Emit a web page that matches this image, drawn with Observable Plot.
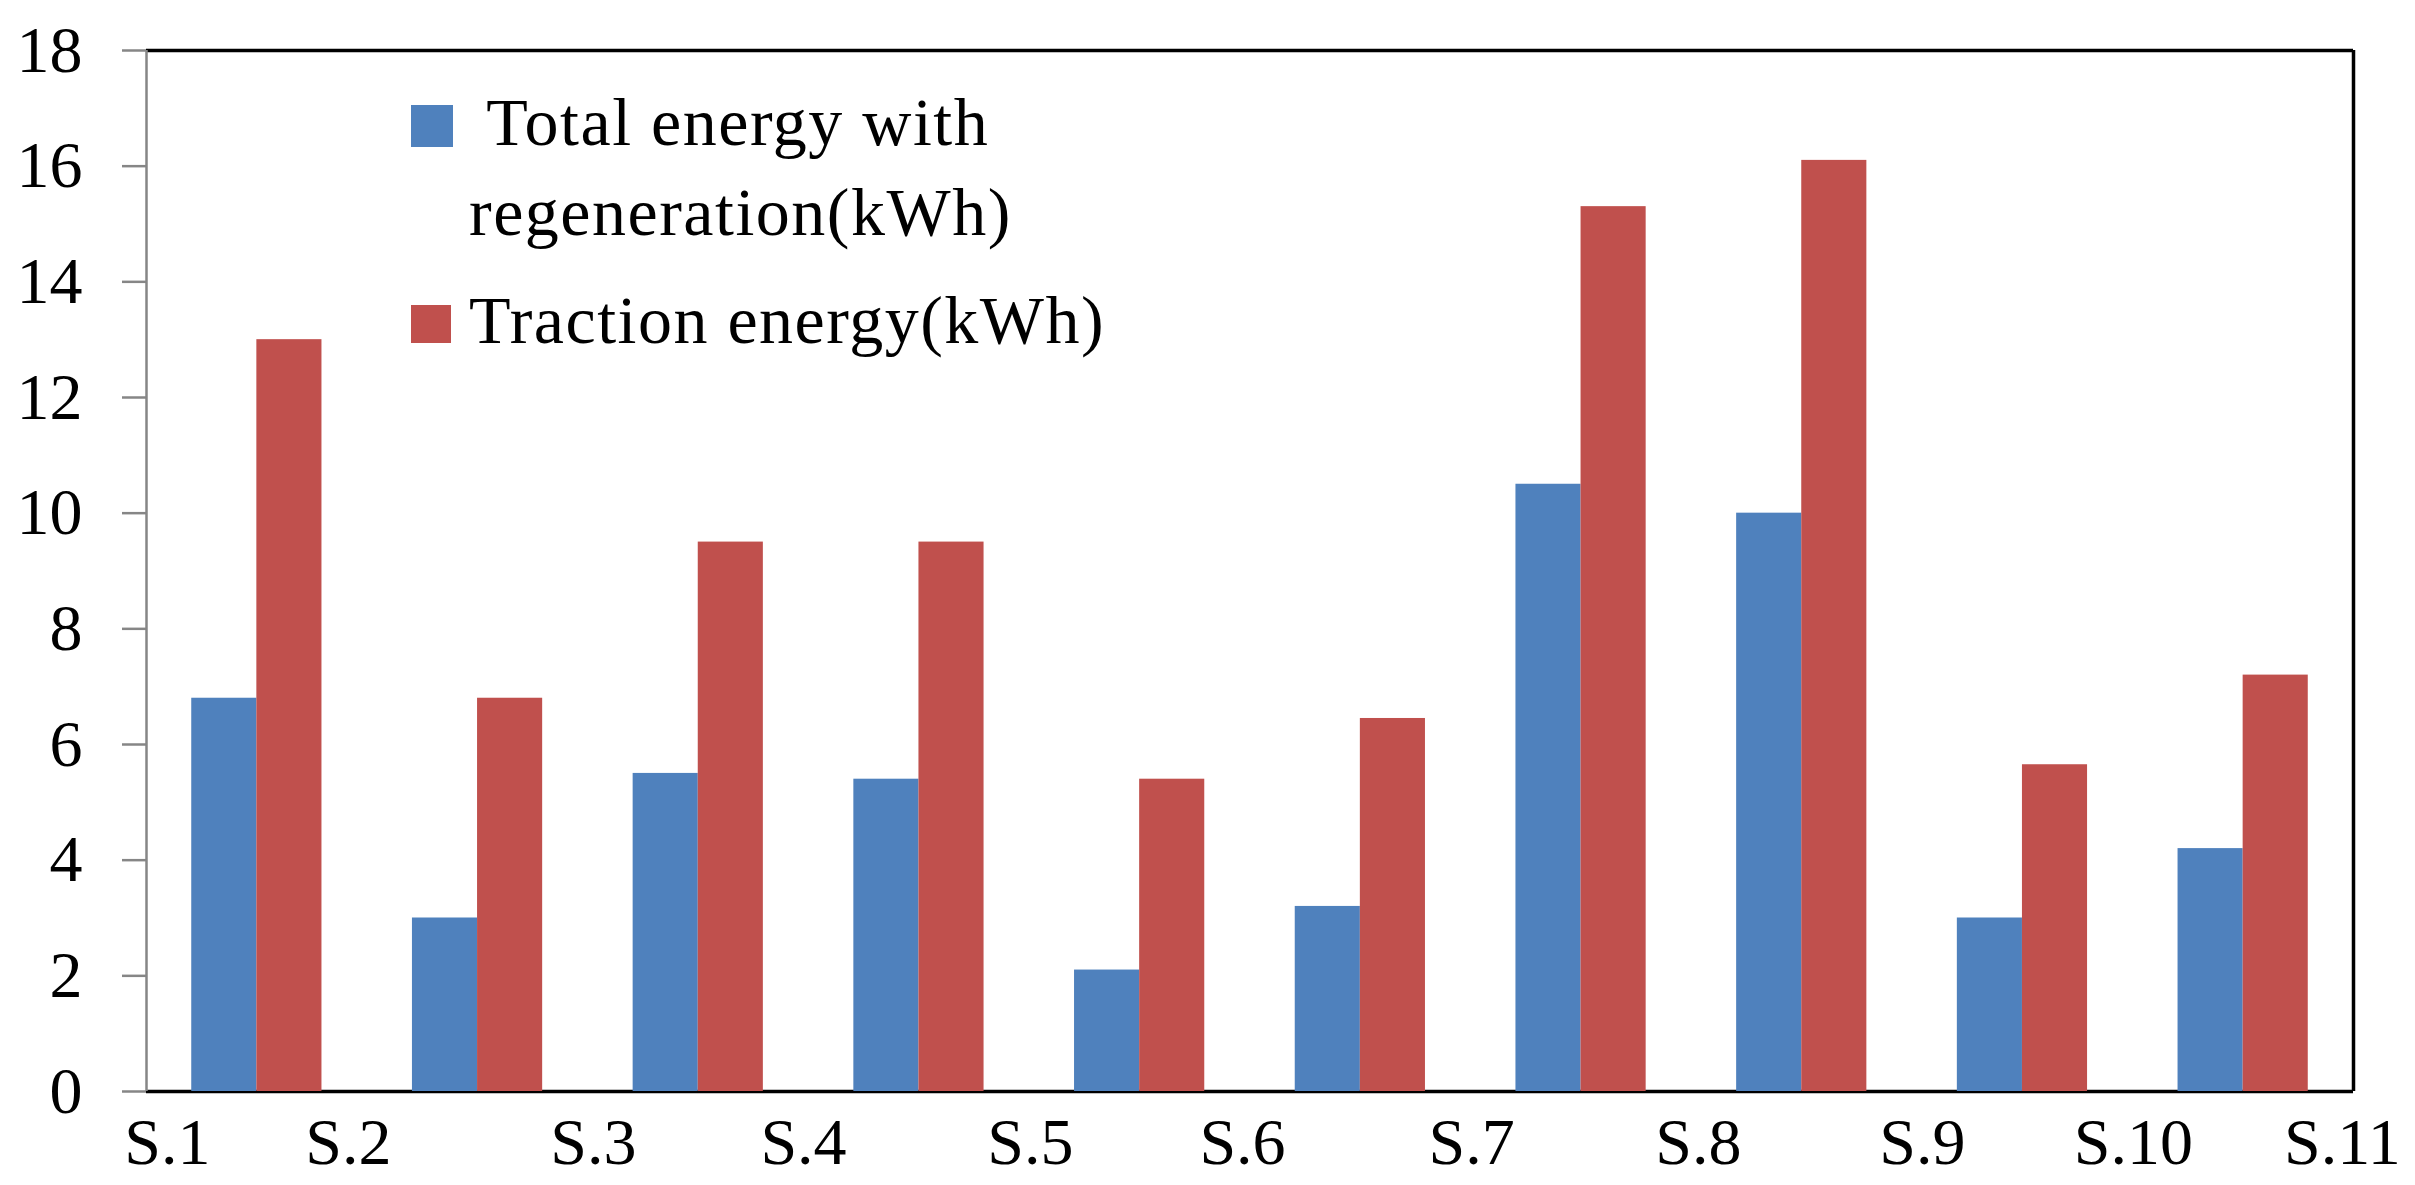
<!DOCTYPE html>
<html>
<head>
<meta charset="utf-8">
<script src="https://cdn.jsdelivr.net/npm/d3@7"></script>
<script src="https://cdn.jsdelivr.net/npm/@observablehq/plot@0.6"></script>
<style>
  html, body { margin: 0; padding: 0; background: #fff; overflow: hidden; }
  #wrap { position: relative; width: 2415px; height: 1185px; }
  #wrap > svg { position: absolute; left: 0; top: 0; }
</style>
</head>
<body>
<div id="wrap"></div>
<script>
// ---- data ----
const groupIndex = [0, 1, 2, 3, 4, 5, 6, 7, 8, 9];
const totalWithRegen = [6.8, 3.0, 5.5, 5.4, 2.1, 3.2, 10.5, 10.0, 3.0, 4.2];
const tractionEnergy = [13.0, 6.8, 9.5, 9.5, 5.4, 6.45, 15.3, 16.1, 5.65, 7.2];
const xTickLabels = ["S.1", "S.2", "S.3", "S.4", "S.5", "S.6", "S.7", "S.8", "S.9", "S.10", "S.11"];
const xTickPositions = [0.095, 0.915, 2.025, 2.977, 4.005, 4.966, 6.004, 7.032, 8.047, 9.003, 9.95];
const yTicks = [0, 2, 4, 6, 8, 10, 12, 14, 16, 18];
const seriesLabels = [[" Total energy with", "regeneration(kWh)"], ["Traction energy(kWh)"]];
const seriesColors = ["#4F81BD", "#C0504D"];

const labelMap = new Map(xTickPositions.map((p, i) => [p, xTickLabels[i]]));
const FONT = "'Liberation Serif', 'Times New Roman', serif";
const W = 2415, H = 1185;

const chart = Plot.plot({
  width: W,
  height: H,
  marginLeft: 146,
  marginRight: 62,
  marginTop: 50,
  marginBottom: 94,
  style: { fontFamily: FONT, fontSize: "66px", background: "#fff", color: "#000", overflow: "visible" },
  x: { type: "linear", domain: [0, 10] },
  y: { domain: [0, 18] },
  marks: [
    Plot.ruleY([18], { stroke: "#000", strokeWidth: 3.5 }),
    Plot.ruleX([10], { stroke: "#000", strokeWidth: 3.5 }),
    Plot.ruleY([0], { stroke: "#000", strokeWidth: 3.5 }),
    Plot.rect(groupIndex, {
      x1: i => i + 0.205, x2: i => i + 0.5,
      y1: 0, y2: i => totalWithRegen[i],
      fill: seriesColors[0]
    }),
    Plot.rect(groupIndex, {
      x1: i => i + 0.5, x2: i => i + 0.795,
      y1: 0, y2: i => tractionEnergy[i],
      fill: seriesColors[1]
    }),
    Plot.ruleX([0], { stroke: "#868686", strokeWidth: 2.5 }),
    Plot.axisY({
      ticks: yTicks, tickSize: 24, tickPadding: 40,
      stroke: "#868686", strokeWidth: 2.5, fill: "#000",
      fontSize: 66, label: null
    }),
    Plot.axisX({
      ticks: xTickPositions, tickFormat: d => labelMap.get(d),
      tickSize: 0, tickPadding: 26, fill: "#000",
      fontSize: 66, label: null
    })
  ]
});

const wrap = document.getElementById("wrap");
wrap.appendChild(chart);

// ---- legend (inside plot area, as in the reference) ----
const legend = d3.create("svg")
  .attr("width", W).attr("height", H)
  .style("pointer-events", "none");
const legendRows = [
  { sq: [411, 105, 42, 42], lines: [[469, 145], [469, 235]] },
  { sq: [411, 305, 40, 38], lines: [[469, 343]] }
];
seriesLabels.forEach((lines, s) => {
  const r = legendRows[s];
  legend.append("rect")
    .attr("x", r.sq[0]).attr("y", r.sq[1]).attr("width", r.sq[2]).attr("height", r.sq[3])
    .attr("fill", seriesColors[s]);
  lines.forEach((t, j) => {
    legend.append("text")
      .attr("x", r.lines[j][0]).attr("y", r.lines[j][1])
      .attr("font-family", FONT).attr("font-size", 68)
      .attr("letter-spacing", "1.5px")
      .style("white-space", "pre")
      .attr("fill", "#000")
      .text(t);
  });
});
wrap.appendChild(legend.node());
</script>
</body>
</html>
